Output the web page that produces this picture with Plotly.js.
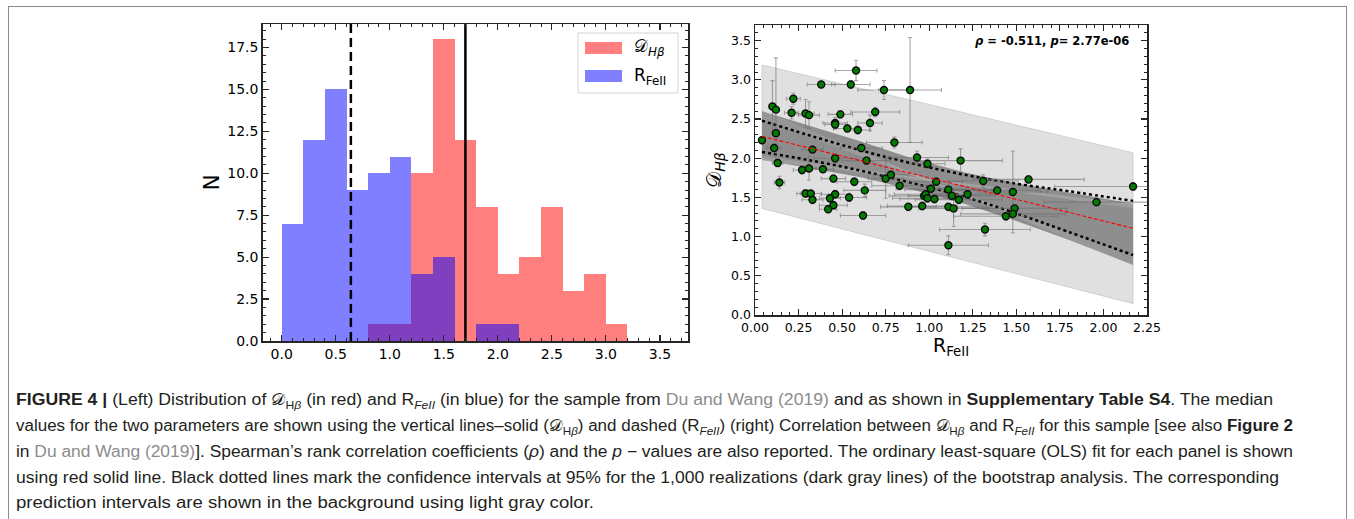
<!DOCTYPE html>
<html>
<head>
<meta charset="utf-8">
<script src="https://cdn.plot.ly/plotly-3.0.1.min.js"></script>
<style>
  html, body { margin:0; padding:0; background:#fff; width:1354px; height:519px; overflow:hidden; }
  #frame { position:absolute; left:8px; top:6px; width:1339px; height:600px; border:1px solid #8a8a8a; border-bottom:none; box-sizing:border-box; }
  #chart { position:absolute; left:0; top:0; width:1354px; height:519px; }
  .cap { position:absolute; left:16px; white-space:nowrap; font-family:"Liberation Sans Narrow","Liberation Sans",Arial,sans-serif; font-size:16px; line-height:20px; color:#231f20; transform-origin:0 50%; }
  .cap b { font-weight:bold; }
  .lnk { color:#8c8c8c; }
  .cap sub { font-size:11px; vertical-align:sub; }
  .cal { font-family:"DejaVu Serif","DejaVu Sans",serif; }
</style>
</head>
<body>
<div id="frame"></div>
<div id="chart"></div>
<div class="cap" data-right="1273" style="top:390px"><b>FIGURE 4 |</b> (Left) Distribution of <span class="cal">𝒟</span><sub>H<i>β</i></sub> (in red) and R<sub><i>FeII</i></sub> (in blue) for the sample from <span class="lnk">Du and Wang (2019)</span> and as shown in <b>Supplementary Table S4</b>. The median</div>
<div class="cap" data-right="1293" style="top:416px">values for the two parameters are shown using the vertical lines–solid (<span class="cal">𝒟</span><sub>H<i>β</i></sub>) and dashed (R<sub><i>FeII</i></sub>) (right) Correlation between <span class="cal">𝒟</span><sub>H<i>β</i></sub> and R<sub><i>FeII</i></sub> for this sample [see also <b>Figure 2</b></div>
<div class="cap" data-right="1293" style="top:442px">in <span class="lnk">Du and Wang (2019)</span>]. Spearman’s rank correlation coefficients (<i>ρ</i>) and the <i>p</i> − values are also reported. The ordinary least-square (OLS) fit for each panel is shown</div>
<div class="cap" data-right="1279" style="top:468px">using red solid line. Black dotted lines mark the confidence intervals at 95% for the 1,000 realizations (dark gray lines) of the bootstrap analysis. The corresponding</div>
<div class="cap" data-right="594" style="top:493px">prediction intervals are shown in the background using light gray color.</div>
<script>
// ---------------- Left panel: histograms ----------------
const binStarts = [0.0, 0.2, 0.4, 0.6, 0.8, 1.0, 1.2, 1.4, 1.6, 1.8, 2.0, 2.2, 2.4, 2.6, 2.8, 3.0];
const binWidth = 0.2;
const countsDHb = [0, 0, 0, 0, 1, 1, 10, 18, 12, 8, 4, 5, 8, 3, 4, 1];
const countsRFe = [7, 12, 15, 9, 10, 11, 4, 5, 0, 1, 1, 0, 0, 0, 0, 0];
const medianDHb = 1.70;
const medianRFe = 0.64;
const histXTicks = [0.0, 0.5, 1.0, 1.5, 2.0, 2.5, 3.0, 3.5];
const histYTicks = [0.0, 2.5, 5.0, 7.5, 10.0, 12.5, 15.0, 17.5];

// ---------------- Right panel: scatter ----------------
const rFe = [0.04,0.10,0.12,0.12,0.11,0.13,0.14,0.22,0.21,0.29,0.31,0.33,0.27,0.31,0.29,0.32,0.33,0.38,0.39,0.46,0.46,0.49,0.46,0.45,0.46,0.43,0.45,0.42,0.55,0.58,0.53,0.59,0.66,0.69,0.74,0.89,0.80,0.61,0.64,0.57,0.54,0.63,0.62,0.75,0.78,0.83,0.88,0.93,0.99,1.01,1.04,0.96,0.97,0.98,0.99,1.03,1.11,1.13,1.11,1.14,1.17,1.18,1.22,1.11,1.31,1.39,1.32,1.48,1.49,1.48,1.44,1.57,1.96,2.17];
const dHb = [2.23,2.66,2.62,2.32,2.13,1.94,1.69,2.76,2.58,2.57,2.55,2.11,1.85,1.87,1.55,1.55,1.47,2.94,1.86,2.45,2.43,2.56,2.00,1.74,1.54,1.49,1.40,1.35,2.94,3.12,2.38,2.36,2.45,2.59,2.87,2.87,2.20,2.13,1.97,1.70,1.50,1.59,1.27,1.74,1.79,1.65,1.38,2.01,1.93,1.61,1.70,1.39,1.52,1.54,1.49,1.48,1.60,1.52,1.38,1.36,1.47,1.97,1.54,0.89,1.71,1.59,1.09,1.57,1.36,1.29,1.26,1.73,1.44,1.64];
const rFeErr = [0.02,0.02,0.02,0.02,0.04,0.03,0.03,0.04,0.04,0.05,0.06,0.06,0.05,0.04,0.05,0.06,0.06,0.08,0.06,0.07,0.06,0.07,0.12,0.07,0.08,0.06,0.08,0.05,0.11,0.12,0.08,0.07,0.07,0.14,0.15,0.18,0.16,0.12,0.14,0.10,0.10,0.12,0.13,0.10,0.10,0.16,0.16,0.18,0.10,0.20,0.15,0.20,0.20,0.18,0.20,0.20,0.25,0.25,0.22,0.20,0.25,0.24,0.25,0.23,0.20,0.25,0.26,0.20,0.30,0.30,0.30,0.32,0.30,0.45];
const dHbErr = [0.04,0.33,0.66,0.05,0.05,0.04,0.08,0.07,0.08,0.18,0.17,0.05,0.05,0.15,0.05,0.04,0.05,0.04,0.04,0.07,0.06,0.05,0.06,0.05,0.05,0.05,0.05,0.04,0.05,0.13,0.04,0.05,0.10,0.06,0.12,0.67,0.07,0.05,0.05,0.05,0.05,0.08,0.05,0.25,0.05,0.05,0.05,0.08,0.06,0.05,0.05,0.05,0.05,0.05,0.05,0.05,0.10,0.05,0.05,0.23,0.05,0.15,0.05,0.12,0.08,0.05,0.08,0.52,0.05,0.05,0.05,0.05,0.05,0.05];

const fitX = [0.04, 2.17];
const olsY = [2.28, 1.106];
const predUpper = [3.19, 2.07];
const predLower = [1.36, 0.145];
const bootLeftY  = [2.60, 2.57, 2.54, 2.51, 2.00, 1.99, 1.98, 2.02];
const bootRightY = [0.64, 0.67, 0.70, 0.73, 1.40, 1.41, 1.39, 1.37];
const bandX     = [0.04, 0.30, 0.60, 0.90, 1.20, 1.50, 1.80, 2.17];
const bandUpper = [2.60, 2.42, 2.22, 2.00, 1.82, 1.68, 1.56, 1.42];
const bandLower = [1.98, 1.88, 1.76, 1.60, 1.42, 1.20, 0.96, 0.64];
const ciUpper   = [2.48, 2.30, 2.105, 1.935, 1.79, 1.675, 1.58, 1.455];
const ciLower   = [2.08, 1.98, 1.845, 1.685, 1.51, 1.295, 1.06, 0.765];
const rho = -0.511;
const pval = '2.77e-06';

const traces = [];
// histograms
traces.push({type:'bar', x:binStarts, y:countsDHb, width:binWidth, offset:0, xaxis:'x', yaxis:'y',
  marker:{color:'rgb(255,0,0)', line:{width:0}}, opacity:0.5, hoverinfo:'skip'});
traces.push({type:'bar', x:binStarts, y:countsRFe, width:binWidth, offset:0, xaxis:'x', yaxis:'y',
  marker:{color:'rgb(0,0,255)', line:{width:0}}, opacity:0.5, hoverinfo:'skip'});
// median lines
traces.push({type:'scatter', mode:'lines', x:[medianRFe, medianRFe], y:[0, 18.9], xaxis:'x', yaxis:'y',
  line:{color:'#000', width:2.5, dash:'9px,5px'}, hoverinfo:'skip'});
traces.push({type:'scatter', mode:'lines', x:[medianDHb, medianDHb], y:[0, 18.9], xaxis:'x', yaxis:'y',
  line:{color:'#000', width:2.5}, hoverinfo:'skip'});

// prediction band (light gray)
traces.push({type:'scatter', mode:'lines', xaxis:'x2', yaxis:'y2',
  x: fitX.concat(fitX.slice().reverse()).concat([fitX[0]]),
  y: predUpper.concat(predLower.slice().reverse()).concat([predUpper[0]]),
  fill:'toself', fillcolor:'#e0e0e0', line:{color:'#c9c9c9', width:0.8}, hoverinfo:'skip'});
// bootstrap band (dark gray)
traces.push({type:'scatter', mode:'lines', xaxis:'x2', yaxis:'y2',
  x: bandX.concat(bandX.slice().reverse()).concat([bandX[0]]),
  y: bandUpper.concat(bandLower.slice().reverse()).concat([bandUpper[0]]),
  fill:'toself', fillcolor:'#8e8e8e', line:{color:'#8e8e8e', width:0}, hoverinfo:'skip'});
// bootstrap realization lines
for (let i = 0; i < bootLeftY.length; i++) {
  traces.push({type:'scatter', mode:'lines', xaxis:'x2', yaxis:'y2', x:fitX, y:[bootLeftY[i], bootRightY[i]],
    line:{color:'#a8a8a8', width:0.7}, hoverinfo:'skip'});
}
// confidence interval dotted lines
traces.push({type:'scatter', mode:'lines', xaxis:'x2', yaxis:'y2', x:bandX, y:ciUpper,
  line:{color:'#000', width:2.5, dash:'dot', shape:'spline'}, hoverinfo:'skip'});
traces.push({type:'scatter', mode:'lines', xaxis:'x2', yaxis:'y2', x:bandX, y:ciLower,
  line:{color:'#000', width:2.5, dash:'dot', shape:'spline'}, hoverinfo:'skip'});
// data points with error bars
traces.push({type:'scatter', mode:'markers', xaxis:'x2', yaxis:'y2', x:rFe, y:dHb,
  error_x:{type:'data', array:rFeErr, visible:true, color:'rgba(110,110,110,0.6)', thickness:1.1, width:2},
  error_y:{type:'data', array:dHbErr, visible:true, color:'rgba(110,110,110,0.6)', thickness:1.1, width:2},
  marker:{color:'#007d00', size:7, line:{color:'#0a0a0a', width:1.4}}, hoverinfo:'skip'});
// OLS line
traces.push({type:'scatter', mode:'lines', xaxis:'x2', yaxis:'y2', x:fitX, y:olsY,
  line:{color:'#ff0000', width:1.1, dash:'4px,2px'}, hoverinfo:'skip'});

const axFrame = {showline:true, linecolor:'#262626', linewidth:1.5, mirror:'allticks', ticks:'inside',
  ticklen:6, tickwidth:1.2, tickcolor:'#262626', showgrid:false, zeroline:false, fixedrange:true};

const calD = '<span style="font-family:\'DejaVu Serif\'">𝒟</span>';

const layout = {
  width:1354, height:519, margin:{l:0, r:0, t:0, b:0},
  paper_bgcolor:'rgba(0,0,0,0)', plot_bgcolor:'#fff',
  showlegend:false, barmode:'overlay', bargap:0,
  font:{family:'DejaVu Sans, sans-serif', color:'#000', size:14},
  xaxis: Object.assign({}, axFrame, {domain:[262.7/1354, 688/1354], range:[-0.176, 3.76], anchor:'y',
    tickvals:histXTicks, tickformat:'.1f', tickfont:{size:14},
    minor:{dtick:0.1, tick0:0, ticks:'inside', ticklen:3, tickwidth:1, tickcolor:'#262626'}}),
  yaxis: Object.assign({}, axFrame, {domain:[1-341/519, 1-24/519], range:[0, 18.9], anchor:'x',
    tickvals:histYTicks, tickformat:'.1f', tickfont:{size:14},
    minor:{dtick:0.5, tick0:0, ticks:'inside', ticklen:3, tickwidth:1, tickcolor:'#262626'},
    title:{text:'N', font:{size:21}, standoff:2}}),
  xaxis2: Object.assign({}, axFrame, {domain:[755/1354, 1147/1354], range:[0, 2.25], anchor:'y2',
    dtick:0.25, tick0:0, tickformat:'.2f', tickfont:{size:12.5},
    minor:{dtick:0.05, tick0:0, ticks:'inside', ticklen:3, tickwidth:1, tickcolor:'#262626'},
    title:{text:'R<sub>FeII</sub>', font:{size:19}, standoff:4}}),
  yaxis2: Object.assign({}, axFrame, {domain:[1-315/519, 1-25/519], range:[0, 3.7], anchor:'x2',
    dtick:0.5, tick0:0, tickformat:'.1f', tickfont:{size:12.5},
    minor:{dtick:0.1, tick0:0, ticks:'inside', ticklen:3, tickwidth:1, tickcolor:'#262626'},
    title:{text: calD + '<sub><i>Hβ</i></sub>', font:{size:20}, standoff:4}}),
  shapes:[
    {type:'rect', xref:'paper', yref:'paper', x0:578/1354, x1:678/1354, y0:1-93/519, y1:1-33/519,
      fillcolor:'rgba(255,255,255,0.85)', line:{color:'#d4d4d4', width:1}},
    {type:'rect', xref:'paper', yref:'paper', x0:585/1354, x1:622/1354, y0:1-54/519, y1:1-42/519,
      fillcolor:'rgba(255,0,0,0.5)', line:{width:0}},
    {type:'rect', xref:'paper', yref:'paper', x0:585/1354, x1:622/1354, y0:1-82/519, y1:1-70/519,
      fillcolor:'rgba(0,0,255,0.5)', line:{width:0}}
  ],
  annotations:[
    {xref:'paper', yref:'paper', x:632/1354, y:1-48/519, xanchor:'left', yanchor:'middle', showarrow:false,
      text: calD + '<sub><i>Hβ</i></sub>', font:{size:17}},
    {xref:'paper', yref:'paper', x:632/1354, y:1-76/519, xanchor:'left', yanchor:'middle', showarrow:false,
      text:'R<sub>FeII</sub>', font:{size:17}},
    {xref:'x2 domain', yref:'y2 domain', x:0.958, y:0.946, xanchor:'right', yanchor:'middle', showarrow:false,
      text:'<b><i>ρ</i> = ' + rho.toFixed(3) + ', <i>p</i>= ' + pval + '</b>', font:{size:11.5}}
  ]
};

Plotly.newPlot('chart', traces, layout, {staticPlot:true, displayModeBar:false}).then(function(){
  document.querySelectorAll('.cap').forEach(function(el){
    const w = el.getBoundingClientRect().width;
    const target = parseFloat(el.dataset.right) - 16;
    el.style.transform = 'scaleX(' + (target / w) + ')';
  });
});
</script>
</body>
</html>
